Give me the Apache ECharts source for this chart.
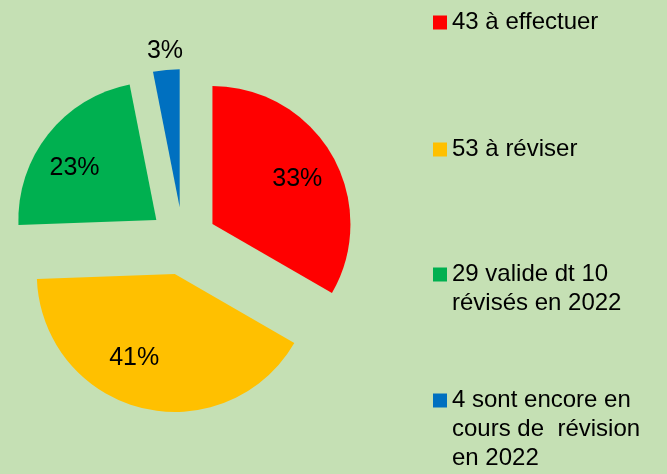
<!DOCTYPE html>
<html>
<head>
<meta charset="utf-8">
<script src="https://cdn.jsdelivr.net/npm/echarts@6/dist/echarts.min.js"></script>
<style>
  html, body { margin: 0; padding: 0; background: #c5e0b4; }
  #chart { width: 667px; height: 474px; }
</style>
</head>
<body>
<div id="chart"></div>
<script>
// donnees du graphique
var categories = [
    '43 à effectuer',
    '53 à réviser',
    '29 valide dt 10\nrévisés en 2022',
    '4 sont encore en\ncours de  révision\nen 2022'
];
var counts = [43, 53, 29, 4];
var colors = ['#ff0000', '#ffc000', '#00b050', '#0070c0'];
var labelInside = [true, true, true, false];   // 3% est ecrit hors du secteur

var font = 'Liberation Sans, Arial, sans-serif';
var center = [183, 241];
var offset = 34;
// petit decalage des etiquettes (placement "ajuste" d'Excel)
var labelShift = [[0, 4], [-17, -11], [-5, 9], [1, 4]];

var pieData = categories.map(function (name, i) {
    return { name: name, value: counts[i], selected: true, itemStyle: { color: colors[i] } };
});

// series transparentes juste pour placer les pourcentages
function labelRing(radius, showFn) {
    return {
        type: 'pie',
        silent: true,
        center: center,
        radius: radius,
        startAngle: 90,
        selectedMode: 'multiple',
        selectedOffset: offset,
        avoidLabelOverlap: false,
        percentPrecision: 0,
        emphasis: { disabled: true },
        itemStyle: { color: 'rgba(0,0,0,0)' },
        labelLine: { show: false },
        label: {
            position: 'inside',
            formatter: '{d}%',
            color: '#000',
            fontFamily: font,
            fontSize: 25
        },
        labelLayout: function (p) {
            return { dx: labelShift[p.dataIndex][0], dy: labelShift[p.dataIndex][1] };
        },
        data: categories.map(function (name, i) {
            return { name: name, value: counts[i], selected: true, label: { show: showFn(i) } };
        })
    };
}

// une legende par element, espacees comme dans Excel
var lineH = 29;
var iconY = [22, 149, 274, 400];
var legends = categories.map(function (name, i) {
    var lines = name.split('\n').length;
    return {
        orient: 'vertical',
        left: 433,
        top: iconY[i] - 11.5,
        padding: 0,
        icon: 'rect',
        itemWidth: 14,
        itemHeight: 14,
        selectedMode: false,
        data: [name],
        formatter: function (n) {
            return n.split('\n').map(function (l) { return '{t|' + l + '}'; }).join('\n');
        },
        textStyle: {
            padding: [lineH * (lines - 1), 0, 0, 0],
            rich: {
                t: {
                    fontFamily: font,
                    fontSize: 24,
                    lineHeight: lineH,
                    color: '#000'
                }
            }
        }
    };
});

var option = {
    backgroundColor: '#c5e0b4',
    animation: false,
    legend: legends,
    series: [
        {
            type: 'pie',
            center: center,
            radius: [0, 138],
            startAngle: 90,
            selectedMode: 'multiple',
            selectedOffset: offset,
            emphasis: { disabled: true },
            label: { show: false },
            labelLine: { show: false },
            data: pieData
        },
        labelRing([52, 138], function (i) { return labelInside[i]; }),
        labelRing([148, 168], function (i) { return !labelInside[i]; })
    ]
};

var chart = echarts.init(document.getElementById('chart'));
chart.setOption(option, true);
</script>
</body>
</html>
